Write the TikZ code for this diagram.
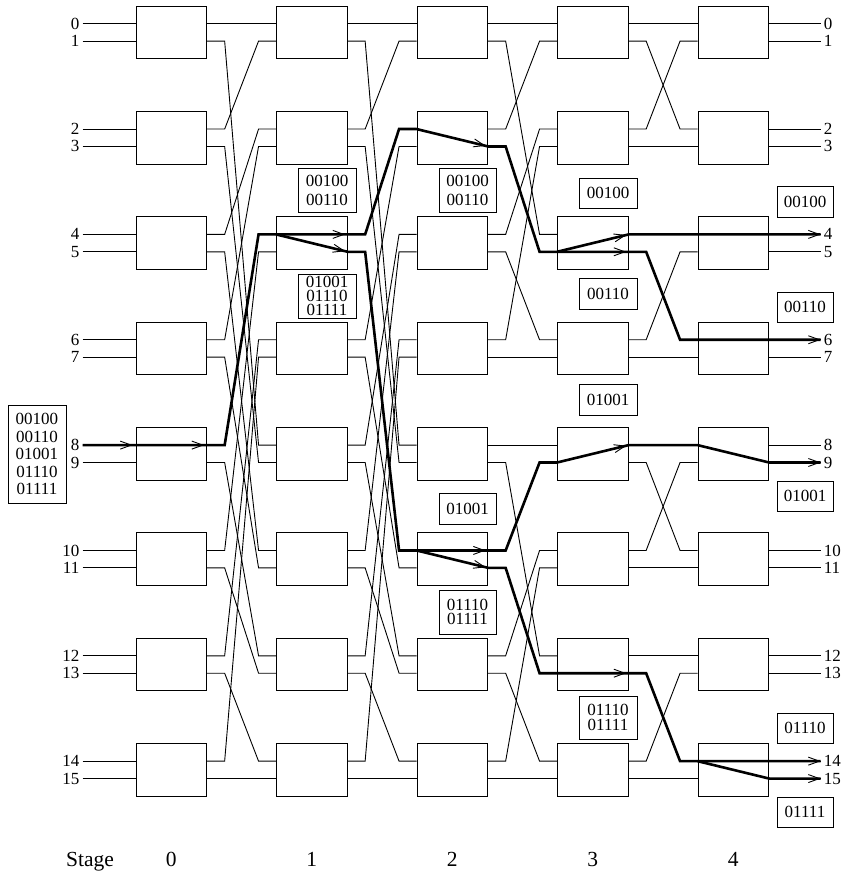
\documentclass[tikz,border=0pt]{standalone}
\usepackage{fontspec}
\setmainfont{Liberation Serif}
\usetikzlibrary{arrows.meta,calc}
\newcommand\pathtip[3][2.5pt]{\draw[arr] ($(#3)!14pt!(#2)$) -- ($(#3)!#1!(#2)$);}
\begin{document}
\begin{tikzpicture}[x=1pt,y=-1pt,
  wire/.style={line width=0.9pt},
  route/.style={line width=2.6pt},
  sw/.style={draw, line width=0.9pt, minimum width=70.7pt, minimum height=52.6pt, inner sep=0pt},
  lbl/.style={draw, line width=0.9pt, fill=white, inner sep=0pt, align=center, minimum width=58pt},
  port/.style={inner sep=0pt, font=\fontsize{17}{17}\selectfont},
  stg/.style={inner sep=0pt, anchor=base, font=\fontsize{21.5}{21.5}\selectfont},
  arr/.style={line width=0.9pt, -{Straight Barb[length=11pt,width=8pt]}},
]
\useasboundingbox (0,0) rectangle (842,872);

% switches and their ports
\foreach \s in {0,...,4}{
  \foreach \r in {0,...,7}{
    \pgfmathsetmacro{\xc}{171.35+140.5*\s}
    \pgfmathsetmacro{\yc}{32.4+105.35*\r}
    \pgfmathtruncatemacro{\pa}{2*\r}
    \pgfmathtruncatemacro{\pb}{2*\r+1}
    \node[sw] (sw-\s-\r) at (\xc,\yc) {};
    \coordinate (i-\s-\pa) at ($(sw-\s-\r.west)+(0,-8.7)$);
    \coordinate (i-\s-\pb) at ($(sw-\s-\r.west)+(0,8.7)$);
    \coordinate (o-\s-\pa) at ($(sw-\s-\r.east)+(0,-8.7)$);
    \coordinate (o-\s-\pb) at ($(sw-\s-\r.east)+(0,8.7)$);
  }
}

% inter-stage wiring
\foreach \s in {0,...,3}{
  \foreach \j in {0,...,15}{
    \pgfmathtruncatemacro{\bb}{mod(\j,2)}
    \pgfmathtruncatemacro{\hh}{int(\j/2)}
    \ifcase\s\relax
      \pgfmathtruncatemacro{\kk}{\hh+8*\bb}
    \or
      \pgfmathtruncatemacro{\kk}{\hh+8*\bb}
    \or
      \pgfmathtruncatemacro{\hib}{8*int(\j/8)}
      \pgfmathtruncatemacro{\lob}{mod(\j,8)}
      \pgfmathtruncatemacro{\kk}{\hib+int(\lob/2)+4*mod(\lob,2)}
    \or
      \pgfmathtruncatemacro{\hib}{4*int(\j/4)}
      \pgfmathtruncatemacro{\lob}{mod(\j,4)}
      \pgfmathtruncatemacro{\kk}{\hib+int(\lob/2)+2*mod(\lob,2)}
    \fi
    \pgfmathtruncatemacro{\nx}{\s+1}
    \draw[wire] (o-\s-\j) -- ++(17.5,0) -- ($(i-\nx-\kk)+(-17.5,0)$) -- (i-\nx-\kk);
  }
}

% inputs and outputs
\foreach \p in {0,...,15}{
  \coordinate (a-\p) at ($(i-0-\p)+(-53,0)$);
  \coordinate (b-\p) at ($(o-4-\p)+(51.5,0)$);
  \draw[wire] (a-\p) -- (i-0-\p);
  \draw[wire] (o-4-\p) -- (b-\p);
  \node[port, anchor=east] (in-\p) at ($(a-\p)+(-3,0)$) {\p};
  \node[port, anchor=west] (out-\p) at ($(b-\p)+(3,0)$) {\p};
}

% stage labels
\node[stg] (stage) at (90,866.5) {Stage};
\foreach \s in {0,...,4}{
  \node[stg] (st-\s) at (171.35+140.5*\s,866.5) {\s};
}

% address label boxes
\node[lbl, minimum height=98pt, font=\fontsize{17}{17.5}\selectfont] (lab1) at (37,454) {00100\\00110\\01001\\01110\\01111};
\node[lbl, minimum height=44pt, font=\fontsize{17}{19}\selectfont] (lab2) at (327,190) {00100\\00110};
\node[lbl, minimum height=44pt, font=\fontsize{17}{14.2}\selectfont] (lab3) at (327,296) {01001\\01110\\01111};
\node[lbl, minimum width=57pt, minimum height=44pt, font=\fontsize{17}{19}\selectfont] (lab4) at (467.5,190) {00100\\00110};
\node[lbl, minimum height=30pt, font=\fontsize{17}{17}\selectfont] (lab5) at (608,193) {00100};
\node[lbl, minimum height=31pt, font=\fontsize{17}{17}\selectfont] (lab6) at (608,293.5) {00110};
\node[lbl, minimum height=31pt, font=\fontsize{17}{17}\selectfont] (lab7) at (608,399.5) {01001};
\node[lbl, minimum width=57pt, minimum height=31pt, font=\fontsize{17}{17}\selectfont] (lab8) at (467.5,508.5) {01001};
\node[lbl, minimum width=57pt, minimum height=44pt, font=\fontsize{17}{14.2}\selectfont] (lab9) at (467.5,612) {01110\\01111};
\node[lbl, minimum height=43pt, font=\fontsize{17}{14.2}\selectfont] (lab10) at (608,717.5) {01110\\01111};
\node[lbl, minimum width=56pt, minimum height=31pt, font=\fontsize{17}{17}\selectfont] (lab11) at (805,201.5) {00100};
\node[lbl, minimum width=56pt, minimum height=30pt, font=\fontsize{17}{17}\selectfont] (lab12) at (805,307) {00110};
\node[lbl, minimum width=56pt, minimum height=30pt, font=\fontsize{17}{17}\selectfont] (lab13) at (805,496) {01001};
\node[lbl, minimum width=56pt, minimum height=30pt, font=\fontsize{17}{17}\selectfont] (lab14) at (805,728) {01110};
\node[lbl, minimum width=56pt, minimum height=30pt, font=\fontsize{17}{17}\selectfont] (lab15) at (805,812) {01111};

% routed (thick) paths
\draw[route] (a-8) -- (i-0-8) -- (o-0-8) -- ++(17.5,0) -- ($(i-1-4)+(-17.5,0)$) -- (i-1-4)
  -- (o-1-4) -- ++(17.5,0) -- ($(i-2-2)+(-17.5,0)$) -- (i-2-2)
  -- (o-2-3) -- ++(17.5,0) -- ($(i-3-5)+(-17.5,0)$) -- (i-3-5)
  -- (o-3-4) -- (i-4-4) -- (o-4-4) -- (b-4);
\draw[route] (i-3-5) -- (o-3-5) -- ++(17.5,0) -- ($(i-4-6)+(-17.5,0)$) -- (i-4-6) -- (o-4-6) -- (b-6);
\draw[route] (i-1-4) -- (o-1-5) -- ++(17.5,0) -- ($(i-2-10)+(-17.5,0)$) -- (i-2-10)
  -- (o-2-10) -- ++(17.5,0) -- ($(i-3-9)+(-17.5,0)$) -- (i-3-9)
  -- (o-3-8) -- (i-4-8) -- (o-4-9) -- (b-9);
\draw[route] (i-2-10) -- (o-2-11) -- ++(17.5,0) -- ($(i-3-13)+(-17.5,0)$) -- (i-3-13)
  -- (o-3-13) -- ++(17.5,0) -- ($(i-4-14)+(-17.5,0)$) -- (i-4-14) -- (o-4-14) -- (b-14);
\draw[route] (i-4-14) -- (o-4-15) -- (b-15);

% arrow heads on the routed paths
\pathtip[3pt]{a-8}{i-0-8}
\pathtip[3pt]{i-0-8}{o-0-8}
\pathtip{i-1-4}{o-1-4}
\pathtip{i-1-4}{o-1-5}
\pathtip{i-2-2}{o-2-3}
\pathtip{i-3-5}{o-3-4}
\pathtip{i-3-5}{o-3-5}
\pathtip{i-2-10}{o-2-10}
\pathtip{i-2-10}{o-2-11}
\pathtip{i-3-9}{o-3-8}
\pathtip{i-3-13}{o-3-13}
\pathtip[0pt]{o-4-4}{b-4}
\pathtip[0pt]{o-4-6}{b-6}
\pathtip[0pt]{o-4-9}{b-9}
\pathtip[0pt]{o-4-14}{b-14}
\pathtip[0pt]{o-4-15}{b-15}
\end{tikzpicture}
\end{document}
